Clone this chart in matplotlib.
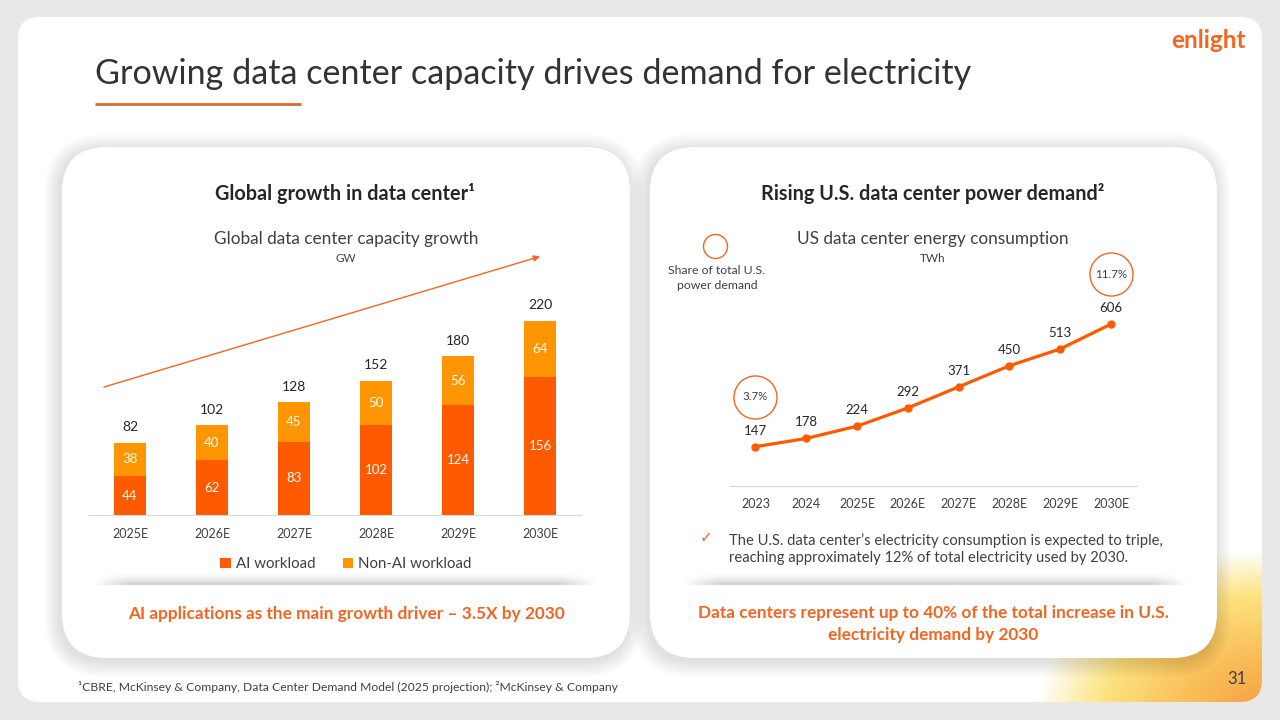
import numpy as np
import matplotlib
matplotlib.use('Agg')
import matplotlib.pyplot as plt
from matplotlib.patches import FancyBboxPatch, Circle
import matplotlib.transforms as mtransforms

# ---------------- data ----------------
bar_years = ['2025E', '2026E', '2027E', '2028E', '2029E', '2030E']
ai_workload = [44, 62, 83, 102, 124, 156]
non_ai_workload = [38, 40, 45, 50, 56, 64]
bar_totals = [82, 102, 128, 152, 180, 220]

line_years = ['2023', '2024', '2025E', '2026E', '2027E', '2028E', '2029E', '2030E']
us_twh = [147, 178, 224, 292, 371, 450, 513, 606]
share_index = [0, 7]
share_text = ['3.7%', '11.7%']

plt.rcParams['font.family'] = ['Lato', 'DejaVu Sans']

W, H = 1280, 720
ORANGE_AI = '#FF5A00'
ORANGE_NON = '#FF9500'
ACCENT = '#F26522'
TXT = '#404040'

fig = plt.figure(figsize=(12.8, 7.2), dpi=100)
fig.patch.set_facecolor('#e8e8e8')
bg = fig.add_axes([0, 0, 1, 1])
bg.set_xlim(0, W)
bg.set_ylim(H, 0)
bg.axis('off')


def px_axes(x0, y0, x1, y1):
    return fig.add_axes([x0 / W, 1 - y1 / H, (x1 - x0) / W, (y1 - y0) / H])


# slide
slide = FancyBboxPatch((18, 17), 1244, 685, boxstyle='round,pad=0,rounding_size=22',
                       fc='white', ec='none', zorder=0)
bg.add_patch(slide)

# bottom-right gradient decoration
gx = np.linspace(1000, 1262, 262)
gy = np.linspace(520, 702, 182)
GX, GY = np.meshgrid(gx, gy)
d = np.sqrt(((GX - 1272) / 235.0) ** 2 + ((GY - 714) / 165.0) ** 2)
t = np.clip(1 - d, 0, 1)
white = np.array([1.0, 1.0, 1.0])
yel = np.array([0.99, 0.89, 0.50])
mid = np.array([0.98, 0.76, 0.36])
org = np.array([0.96, 0.61, 0.25])
img = np.zeros(GX.shape + (3,))
for i_ in range(3):
    img[..., i_] = np.interp(t, [0, 0.28, 0.6, 1.0], [white[i_], yel[i_], mid[i_], org[i_]])
im = bg.imshow(img, extent=(1000, 1262, 702, 520), origin='upper', zorder=0.5,
               interpolation='bilinear', aspect='auto')
im.set_clip_path(slide)

# logo
bg.text(1208, 40, 'enlight', fontsize=17.5, fontweight='bold', color=ACCENT,
        ha='center', va='center', zorder=3)

# title
bg.text(95, 74, 'Growing data center capacity drives demand for electricity',
        fontsize=24.6, color='#333333', va='center', ha='left', zorder=3)
bg.plot([95, 301], [103.5, 103.5], color='#D9692E', lw=2, solid_capstyle='butt', zorder=3)


# panels with shadow
def panel(x, y, w, h):
    for k in range(10, 0, -1):
        p = k * 1.6
        sh = FancyBboxPatch((x - 2, y + 3), w, h,
                            boxstyle=f'round,pad={p},rounding_size={45 + p}',
                            fc='#000000', ec='none', alpha=0.011, zorder=1)
        bg.add_patch(sh)
    bg.add_patch(FancyBboxPatch((x, y), w, h, boxstyle='round,pad=0,rounding_size=45',
                                fc='white', ec='none', zorder=2))


panel(62, 147, 568, 511)
panel(650, 147, 567, 511)


# shadow strip under charts
def strip(x0, x1, yc):
    xs = np.linspace(x0, x1, 400)
    ys = np.linspace(yc - 12, yc + 3, 30)
    XX, YY = np.meshgrid(xs, ys)
    va = np.clip((YY - (yc - 12)) / 12.0, 0, 1) ** 1.6
    va[YY > yc + 1] = 0
    ha = np.clip(np.minimum(XX - x0, x1 - XX) / 35.0, 0, 1)
    a = va * ha * 0.32
    rgba = np.zeros(XX.shape + (4,))
    rgba[..., :3] = 0.45
    rgba[..., 3] = a
    bg.imshow(rgba, extent=(x0, x1, yc + 3, yc - 12), origin='upper', zorder=2.5,
              interpolation='bilinear', aspect='auto')


strip(93, 597, 584)
strip(683, 1188, 584)

# ---------------- left panel ----------------
bg.text(345, 193, 'Global growth in data center¹', fontsize=14.3, fontweight='bold',
        color='#262626', ha='center', va='center', zorder=3)
bg.text(346, 239, 'Global data center capacity growth', fontsize=12.4, color=TXT,
        ha='center', va='center', zorder=3)
bg.text(346, 259, 'GW', fontsize=8.5, color=TXT, ha='center', va='center', zorder=3)

ax1 = px_axes(89, 250, 581, 515)
ax1.set_zorder(4)
ax1.patch.set_alpha(0)
xb = np.arange(len(bar_years))
b1 = ax1.bar(xb, ai_workload, width=0.39, color=ORANGE_AI, label='AI workload')
b2 = ax1.bar(xb, non_ai_workload, width=0.39, bottom=ai_workload, color=ORANGE_NON,
             label='Non-AI workload')
for i in range(len(bar_years)):
    ax1.text(xb[i], ai_workload[i] / 2, str(ai_workload[i]), color='white', fontsize=9.5,
             ha='center', va='center')
    ax1.text(xb[i], ai_workload[i] + non_ai_workload[i] / 2, str(non_ai_workload[i]),
             color='white', fontsize=9.5, ha='center', va='center')
    ax1.annotate(str(bar_totals[i]), (xb[i], bar_totals[i]), xytext=(0, 11),
                 textcoords='offset points', ha='center', va='center', fontsize=10,
                 color='#262626')
ax1.set_xlim(-0.5, len(bar_years) - 0.5)
ax1.set_ylim(0, 300)
ax1.set_xticks(xb)
ax1.set_xticklabels(bar_years)
ax1.set_yticks([])
for s in ['top', 'left', 'right']:
    ax1.spines[s].set_visible(False)
ax1.spines['bottom'].set_color('#d9d9d9')
ax1.tick_params(axis='x', length=0, pad=9, labelsize=9, labelcolor=TXT)
ax1.legend(handles=[b1, b2], loc='center', bbox_to_anchor=(346 / W, 1 - 564 / H),
           bbox_transform=fig.transFigure, ncol=2, frameon=False, fontsize=10.8,
           handlelength=0.7, handleheight=0.7, handletextpad=0.35, columnspacing=1.8,
           labelcolor=TXT)

bg.annotate('', xy=(540, 256.5), xytext=(104, 387),
            arrowprops=dict(arrowstyle='-|>', color=ACCENT, lw=1, mutation_scale=9,
                            shrinkA=0, shrinkB=0), zorder=3)

bg.text(346, 614, 'AI applications as the main growth driver – 3.5X by 2030',
        fontsize=12.4, fontweight='bold', color=ACCENT, ha='center', va='center', zorder=3)

# ---------------- right panel ----------------
bg.text(933, 193, 'Rising U.S. data center power demand²', fontsize=14.3, fontweight='bold',
        color='#262626', ha='center', va='center', zorder=3)
bg.text(933, 239, 'US data center energy consumption', fontsize=12.4, color=TXT,
        ha='center', va='center', zorder=3)
bg.text(933, 259, 'TWh', fontsize=8.5, color=TXT, ha='center', va='center', zorder=3)

bg.add_patch(Circle((715.5, 246.5), 12, fill=False, ec=ACCENT, lw=1, zorder=3))
bg.text(717, 278, 'Share of total U.S.\npower demand', fontsize=8.8, color=TXT,
        ha='center', va='center', linespacing=1.35, zorder=3)

ax2 = px_axes(730, 300, 1136.5, 486)
ax2.set_zorder(4)
ax2.patch.set_alpha(0)
xl = np.arange(len(line_years))
ax2.plot(xl, us_twh, color=ORANGE_AI, lw=2.3, marker='o', markersize=5, clip_on=False)
for i in range(len(line_years)):
    ax2.annotate(str(us_twh[i]), (xl[i], us_twh[i]), xytext=(0, 11.5),
                 textcoords='offset points', ha='center', va='center', fontsize=9.5,
                 color='#262626')
trans = mtransforms.offset_copy(ax2.transData, fig=fig, x=0, y=50, units='dots')
for idx, txt in zip(share_index, share_text):
    ax2.plot([xl[idx]], [us_twh[idx]], marker='o', markersize=31, mfc='none', mec=ACCENT,
             mew=1, transform=trans, clip_on=False)
    ax2.text(xl[idx], us_twh[idx], txt, transform=trans, ha='center', va='center',
             fontsize=8.3, color=TXT, clip_on=False)
ax2.set_xlim(-0.5, len(line_years) - 0.5)
ax2.set_ylim(0, 696)
ax2.set_xticks(xl)
ax2.set_xticklabels(line_years)
ax2.set_yticks([])
for s in ['top', 'left', 'right']:
    ax2.spines[s].set_visible(False)
ax2.spines['bottom'].set_color('#d9d9d9')
ax2.tick_params(axis='x', length=0, pad=9, labelsize=9, labelcolor=TXT)

bg.text(706, 538, '✓', fontsize=11, color=ACCENT, ha='center', va='center',
        family=['DejaVu Sans'], zorder=3)
bg.text(729, 549, 'The U.S. data center’s electricity consumption is expected to triple,\n'
        'reaching approximately 12% of total electricity used by 2030.',
        fontsize=10.6, color=TXT, ha='left', va='center', linespacing=1.35, zorder=3)

bg.text(933, 624, 'Data centers represent up to 40% of the total increase in U.S.\n'
        'electricity demand by 2030', fontsize=12.4, fontweight='bold', color=ACCENT,
        ha='center', va='center', linespacing=1.4, zorder=3)

# footer
bg.text(78, 687, '¹CBRE, McKinsey & Company, Data Center Demand Model (2025 projection); '
        '²McKinsey & Company', fontsize=8.7, color=TXT, ha='left', va='center', zorder=3)
bg.text(1247, 679, '31', fontsize=12, color=TXT, ha='right', va='center', zorder=3)

fig.savefig('out.png', dpi=100, facecolor=fig.get_facecolor())
